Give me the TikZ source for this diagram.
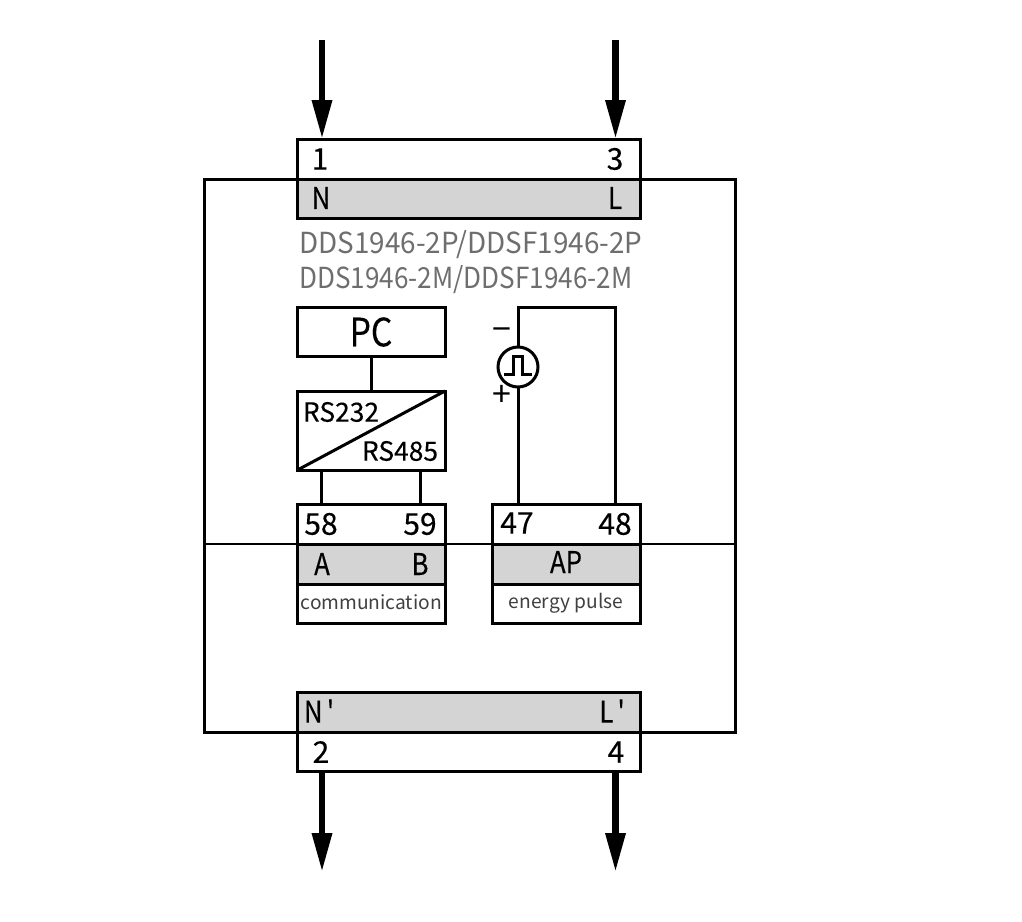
\documentclass[tikz,border=0pt]{standalone}
\usepackage{fontspec}
\setmainfont{Noto Sans CJK SC}
\newfontfamily\labelfont[FakeBold=0.3]{Noto Sans CJK SC}
\usetikzlibrary{arrows.meta,positioning}
\definecolor{bargray}{HTML}{D4D4D4}
\definecolor{typegray}{HTML}{6E6E6E}

\begin{document}
\begin{tikzpicture}[x=0.5pt,y=-0.5pt]
\tikzstyle{box}=[rectangle,draw,line width=1.5pt,outer sep=0pt,inner sep=0pt,fill=white]
\tikzstyle{bar}=[box,fill=bargray]
\tikzstyle{wide}=[minimum width=171.25pt]
\tikzstyle{narrow}=[minimum width=73.75pt]
\tikzstyle{lbl}=[inner sep=0pt,font=\labelfont\fontsize{15}{15}\selectfont]
\tikzstyle{letter}=[lbl,xscale=.86,transform shape]
\tikzstyle{small}=[inner sep=0pt,font=\fontsize{9.6}{10}\selectfont,text=black!75]
\tikzstyle{mid}=[inner sep=0pt,font=\labelfont\fontsize{13.2}{14}\selectfont]
\tikzstyle{type}=[inner sep=0pt,anchor=west,font=\fontsize{14.5}{15}\selectfont,text=typegray,transform shape]
\tikzstyle{wire}=[line width=1.5pt]
\tikzstyle{power}=[line width=3.2pt,-{Triangle[length=19.5pt,width=9.5pt]}]
\useasboundingbox (0,0) rectangle (1022,921);
\fill[white] (0,0) rectangle (1022,921);

% outer case
\node[rectangle,draw,line width=1.5pt,outer sep=0pt,inner sep=0pt,minimum width=265.5pt,minimum height=276.5pt] (case) at (469.5,455.5) {};

% line side
\node[box,wide,minimum height=20pt] (top) at (468.75,159) {};
\node[bar,wide,minimum height=19.5pt,below=0pt of top] (topbar) {};
\node[lbl] (t1) at (320,159) {1};
\node[lbl] (t3) at (615,159) {3};
\node[letter] (tN) at (321,198) {N};
\node[letter] (tL) at (615,198) {L};
\node[type,xscale=.96] (ptype) at (299,245) {DDS1946-2P/DDSF1946-2P};
\node[type,xscale=.90] (mtype) at (299,280) {DDS1946-2M/DDSF1946-2M};

% communication side
\node[box,narrow,minimum height=24.5pt] (pc) at (371.25,331.5) {};
\node[letter,font=\labelfont\fontsize{19.5}{20}\selectfont,xscale=1] (pclbl) at (371,332) {PC};
\node[box,narrow,minimum height=39.5pt,below=17.5pt of pc] (conv) {};
\draw[wire] (conv.south west) -- (conv.north east);
\node[mid] (rs232) at (341,412) {RS232};
\node[mid] (rs485) at (400,451) {RS485};
\node[box,narrow,minimum height=20pt] (comnum) at (371.25,524) {};
\node[bar,narrow,minimum height=20pt,below=0pt of comnum] (combar) {};
\node[box,narrow,minimum height=19.5pt,below=0pt of combar] (comtxt) {};
\node[lbl] (t58) at (321,524) {58};
\node[lbl] (t59) at (420,524) {59};
\node[letter] (tA) at (322,564) {A};
\node[letter] (tB) at (420,564) {B};
\node[small] (comlbl) at (371.25,602) {communication};

% pulse side
\node[box,narrow,minimum height=20pt] (apnum) at (566.5,524) {};
\node[bar,narrow,minimum height=20pt,below=0pt of apnum] (apbar) {};
\node[box,narrow,minimum height=19.5pt,below=0pt of apbar] (aptxt) {};
\node[lbl] (t47) at (517,523) {47};
\node[lbl] (t48) at (615,524) {48};
\node[letter] (tAP) at (566,562) {AP};
\node[small] (aplbl) at (566,603) {energy pulse};
\node[circle,draw,line width=1.5pt,outer sep=0pt,inner sep=0pt,minimum size=20pt] (pulse) at (518,367) {};
\draw[wire] (504,374) -- (513,374) -- (513,356) -- (522,356) -- (522,374) -- (532,374);
\node[mid,font=\fontsize{17}{17}\selectfont] (minus) at (502,335) {\textminus};
\node[mid,font=\fontsize{17}{17}\selectfont] (plus) at (502,396) {+};
\coordinate (loop) at (615,307);

% lines through the case
\draw[line width=1.35pt] (case.west |- combar.north) -- (case.east |- combar.north);
\draw[wire] (pc) -- (conv);
\draw[wire] (t58 |- conv.south) -- (t58 |- comnum.north);
\draw[wire] (t59 |- conv.south) -- (t59 |- comnum.north);
\draw[wire] (pulse.south) -- (pulse.south |- apnum.north);
\draw[wire] (pulse.north) |- (loop) -- (loop |- apnum.north);

% load side
\node[bar,wide,minimum height=20pt] (botbar) at (468.75,712) {};
\node[box,wide,minimum height=19.5pt,below=0pt of botbar] (bot) {};
\node[letter] (tNp) at (319,711) {N\,\symbol{39}};
\node[letter] (tLp) at (612,711) {L\,\symbol{39}};
\node[lbl] (t2) at (321,752) {2};
\node[lbl] (t4) at (616,752) {4};

% mains arrows
\coordinate (inN) at (322,40);
\coordinate (inL) at (615.5,40);
\coordinate (outN) at (322,872);
\coordinate (outL) at (615.5,872);
\draw[power] (inN) -- (inN |- top.north);
\draw[power] (inL) -- (inL |- top.north);
\draw[power] (outN |- bot.south) -- (outN);
\draw[power] (outL |- bot.south) -- (outL);
\end{tikzpicture}
\end{document}
